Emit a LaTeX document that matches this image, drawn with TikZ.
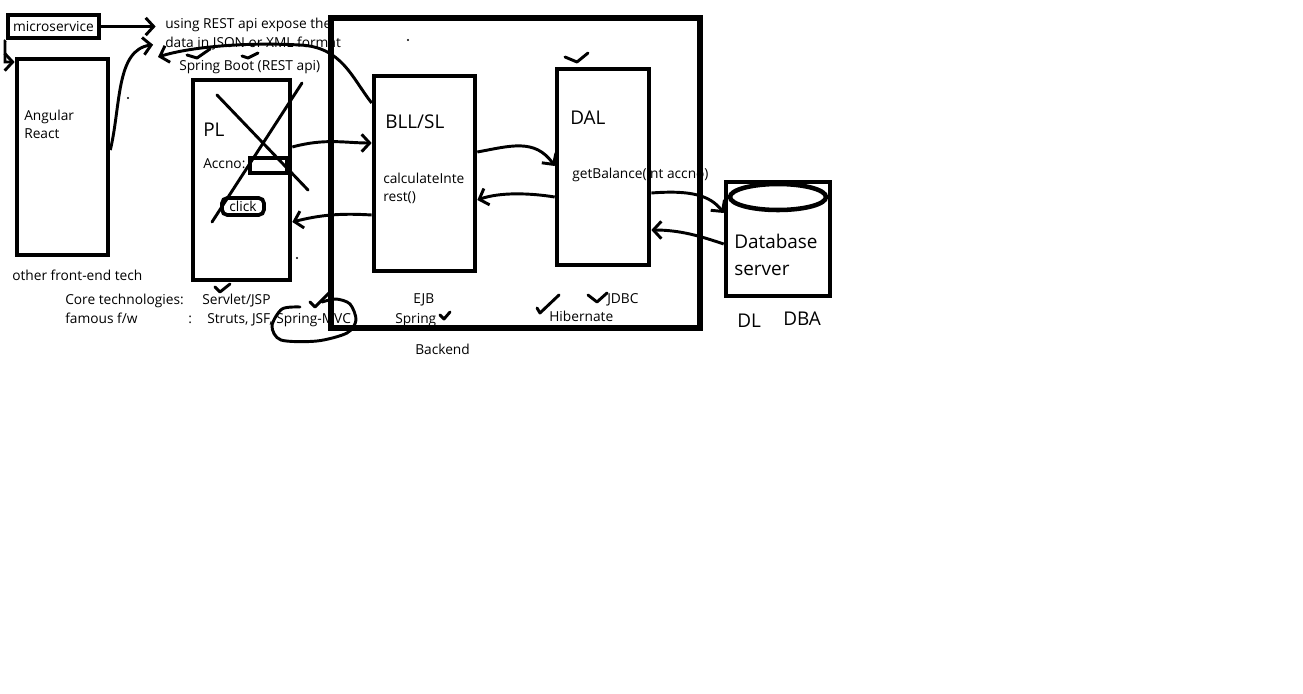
\documentclass[tikz,border=0pt]{standalone}
\usepackage{fontspec}
\setmainfont{Open Sans}
\usetikzlibrary{arrows.meta,shapes.geometric}

\begin{document}
\begin{tikzpicture}[
  x=0.75pt, y=-0.75pt,
  layerbox/.style={rectangle, draw, line width=3.5pt, inner sep=0pt},
  fieldbox/.style={rectangle, draw, line width=2.8pt, inner sep=0pt},
  msg/.style={-{Straight Barb[length=6pt,width=13pt]}, line width=2.2pt},
  txt/.style={anchor=base west, inner sep=0pt, font=\fontsize{10.3}{13}\selectfont},
  bigtxt/.style={anchor=base west, inner sep=0pt, font=\fontsize{14.2}{18}\selectfont},
  pen/.style={line width=2.2pt, line cap=round, line join=round}
]
  \fill[white] (0,0) rectangle (1303,693);
  \useasboundingbox (0,0) rectangle (1303,693);

  % texts first, the boxes and strokes go over them
  \node[txt] (rest)  at (165,28) {using REST api expose the};
  \node[txt] (rest2) at (165,47) {data in JSON or XML format};
  \node[txt] (boot)  at (179,70) {Spring Boot (REST api)};
  \node[txt] (angular) at (24,120) {Angular};
  \node[txt] (react)   at (24,138) {React};
  \node[txt] (other)   at (12,280) {other front-end tech};
  \node[bigtxt] (pltxt) at (203,136) {PL};
  \node[txt] (accnotxt) at (203,168) {Accno:};
  \node[txt] (core)    at (65,304)  {Core technologies:};
  \node[txt] (servlet) at (202,304) {Servlet/JSP};
  \node[txt] (famous)  at (65,323)  {famous f/w};
  \node[txt] (colon)   at (188,323) {:};
  \node[txt] (struts)  at (207,323) {Struts, JSF, Spring-MVC};
  \node[bigtxt] (blltxt) at (385,128) {BLL/SL};
  \node[txt] (calc1) at (383,183) {calculateInte};
  \node[txt] (calc2) at (383,201) {rest()};
  \node[bigtxt] (daltxt) at (570,124) {DAL};
  \node[txt] (getbal) at (572,178) {getBalance(int accno)};
  \node[txt] (ejb)    at (413,303) {EJB};
  \node[txt] (spring) at (395,323) {Spring};
  \node[txt] (jdbc)   at (607,303) {JDBC};
  \node[txt] (hib)    at (549,321) {Hibernate};
  \node[txt] (backtxt) at (415,354) {Backend};
  \node[bigtxt] (dbtxt1) at (734,248) {Database};
  \node[bigtxt] (dbtxt2) at (734,275) {server};
  \node[bigtxt] (dl)  at (737,327) {DL};
  \node[bigtxt] (dba) at (783,325) {DBA};

  % boxes
  \node[layerbox, minimum width=68.25pt, minimum height=17.25pt, font=\fontsize{10.3}{13}\selectfont] (micro) at (53.5,26.5) {microservice};
  \node[layerbox, minimum width=68.25pt, minimum height=147pt] (front) at (62.5,157) {};
  \node[layerbox, minimum width=72.75pt, minimum height=150pt] (pl) at (241.5,180) {};
  \node[fieldbox, minimum width=27.75pt, minimum height=11.25pt] (accno) at (268.5,165.5) {};
  \node[fieldbox, rounded corners=4pt, minimum width=31.5pt, minimum height=12.75pt, font=\fontsize{10.3}{13}\selectfont] (click) at (243,206.5) {click};
  \node[layerbox, line width=3.8pt, minimum width=276.75pt, minimum height=232.5pt] (backend) at (515.5,173) {};
  \node[layerbox, minimum width=75.75pt, minimum height=146.25pt] (bll) at (424.5,173.5) {};
  \node[layerbox, minimum width=69pt, minimum height=147pt] (dal) at (603,167) {};
  \node[layerbox, minimum width=78pt, minimum height=85.5pt] (db) at (778,239) {};
  \node[ellipse, draw, line width=3.4pt, inner sep=0pt, minimum width=72pt, minimum height=19.5pt] (dbtop) at (778,197) {};

  \coordinate (bootin) at (158,57);

  % arrows
  \draw[msg, shorten >=7pt] (micro.east) -- (rest.west |- micro.east);
  \draw[msg] (micro.south west) -- (5,41) -- (5,62) -- (front.west |- 0,62);
  \draw[msg, shorten >=9pt] (front.east |- 0,150) .. controls (121,105) and (116,50) .. (rest2.west);
  \draw[msg] (bll.west |- 0,103) .. controls (352,78) and (342,47) .. (300,45)
    .. controls (245,42) and (190,47) .. (bootin);
  \draw[msg] (pl.east |- 0,147) .. controls (325,138) and (345,143) .. (bll.west |- 0,143);
  \draw[msg] (bll.west |- 0,215) .. controls (340,213) and (320,215) .. (pl.east |- 0,222);
  \draw[msg] (bll.east |- 0,152) .. controls (510,146) and (535,138) .. (dal.west |- 0,166);
  \draw[msg] (dal.west |- 0,197) .. controls (530,193) and (500,192) .. (bll.east |- 0,200);
  \draw[msg] (dal.east |- 0,193) .. controls (690,190) and (710,195) .. (db.west |- 0,213);
  \draw[msg] (db.west |- 0,244) .. controls (700,236) and (680,230) .. (dal.east |- 0,230);

  % pen strokes
  \draw[pen] (217,95) -- (308,190);
  \draw[pen] (302,83) -- (212,222);
  \draw[pen] (187,55) -- (197,58) -- (210,49);
  \draw[pen] (242,56) -- (248,58) -- (258,53);
  \draw[pen] (215,287) -- (220,292) -- (230,284);
  \draw[pen] (565,57) -- (577,62) -- (588,53);
  \draw[pen] (440,315) -- (444,319) -- (450,312);
  \draw[pen] (537,308) -- (540,313) -- (559,295);
  \draw[pen] (588,295) -- (597,302) -- (607,293);
  \draw[pen] (330,292) -- (315,307) -- (310,302);
  \draw[pen] plot[smooth] coordinates {(300,307) (282,309) (272,326) (281,340) (317,341) (347,333) (356,320) (350,304) (336,299) (322,302)};
  \fill (128,98) circle (0.9pt);
  \fill (408,40) circle (0.9pt);
  \fill (297,258) circle (0.9pt);
\end{tikzpicture}
\end{document}
